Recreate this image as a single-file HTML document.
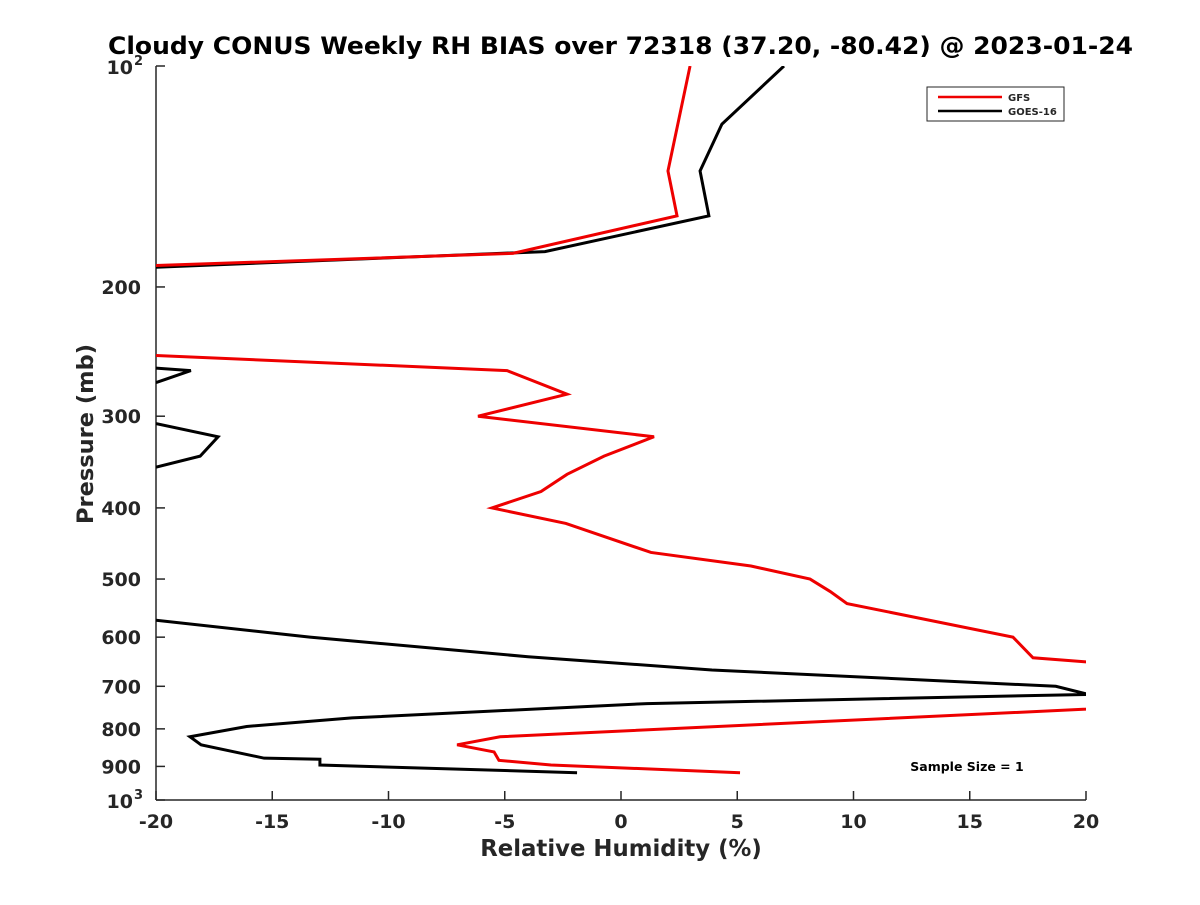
<!DOCTYPE html>
<html><head><meta charset="utf-8"><style>
body{margin:0;background:#fff}
svg text{font-family:"DejaVu Sans","Liberation Sans",sans-serif;font-weight:bold;fill:#262626}
</style></head><body>
<svg id="chart" width="1200" height="900" xmlns="http://www.w3.org/2000/svg">
<defs><clipPath id="clip"><rect x="156" y="66" width="930" height="734"/></clipPath></defs>
<rect width="1200" height="900" fill="#fff"/>
<text x="108" y="54" font-size="24" textLength="1025" lengthAdjust="spacingAndGlyphs" style="fill:#000">Cloudy CONUS Weekly RH BIAS over 72318 (37.20, -80.42) @ 2023-01-24</text>
<g id="axes"></g>
<g id="series" clip-path="url(#clip)"></g>
<g>
<rect x="927" y="87" width="137" height="34" fill="#fff" stroke="#262626" stroke-width="1"/>
<line x1="938" y1="97" x2="1002" y2="97" stroke="#e00" stroke-width="2.5"/>
<text x="1008" y="101" font-size="10">GFS</text>
<line x1="938" y1="111" x2="1002" y2="111" stroke="#000" stroke-width="2.5"/>
<text x="1008" y="115" font-size="10">GOES-16</text>
</g>
<text x="967" y="771" text-anchor="middle" font-size="12.5" style="fill:#000">Sample Size = 1</text>
<text x="621" y="856" text-anchor="middle" font-size="22.8">Relative Humidity (%)</text>
<text transform="translate(93,434) rotate(-90)" text-anchor="middle" font-size="22.5">Pressure (mb)</text>
</svg>
<script>
const xTicks=[-20,-15,-10,-5,0,5,10,15,20];
const yTicks=[200,300,400,500,600,700,800,900];
const gfsSegments=[
 [[2.97,100],[2.02,139],[2.41,160],[-4.65,180],[-20,187]],
 [[-20,248],[-4.9,260],[-2.32,280],[-6.15,300],[1.42,320],[-0.73,340],[-2.32,360],[-3.44,380],[-5.55,400],[-2.37,420],[1.29,460],[5.59,480],[8.13,500],[9.0,520],[9.72,540],[16.86,600],[17.72,640],[21,652],[26,700],[20,752],[-5.2,820],[-7.05,841],[-5.46,860],[-5.25,883],[-3.01,896],[5.12,918]]
];
const goesSegments=[
 [[7.01,100],[4.34,120],[3.4,139],[3.78,160],[-3.27,179],[-20,188]],
 [[-20,258],[-18.5,260],[-20,270]],
 [[-20,307],[-17.33,320],[-18.1,340],[-20,352]],
 [[-20,569],[-13.38,600],[-4.0,638],[3.91,665],[18.7,700],[20.1,718],[1.12,739],[-11.57,773],[-16.1,794],[-18.54,820],[-18.06,841],[-15.35,877],[-12.95,880],[-12.95,896],[-1.89,918]]
];
const NS="http://www.w3.org/2000/svg";
const X=v=>156+(v+20)/40*930;
const Y=p=>66+734*Math.log10(p/100);
const axes=document.getElementById('axes'), series=document.getElementById('series');
function mk(tag,attrs,parent){const e=document.createElementNS(NS,tag);for(const k in attrs)e.setAttribute(k,attrs[k]);parent.appendChild(e);return e;}
const yl=mk('line',{x1:156,y1:66,x2:156,y2:800,stroke:'#262626','stroke-width':1.5},axes);


const xl=mk('line',{x1:156,y1:800,x2:1086,y2:800,stroke:'#262626','stroke-width':1.5},axes);


xTicks.forEach(v=>{
 const l=mk('line',{x1:X(v),y1:800,x2:X(v),y2:791,stroke:'#262626','stroke-width':1.5},axes);
 
 
 const t=mk('text',{x:X(v),y:828,'text-anchor':'middle','font-size':19},axes);
 t.textContent=String(v);
 
 
});
[100,...yTicks,1000].forEach(p=>{
 const l=mk('line',{x1:156,y1:Y(p),x2:165,y2:Y(p),stroke:'#262626','stroke-width':1.5},axes);
 
 
});
yTicks.forEach(p=>{
 const t=mk('text',{x:141,y:Y(p)+7,'text-anchor':'end','font-size':19},axes);
 t.textContent=String(p);
 
 
});
[[100,'2'],[1000,'3']].forEach(([p,e])=>{
 const t=mk('text',{x:133,y:Y(p)+8,'text-anchor':'end','font-size':19},axes);
 t.textContent='10';
 
 
 const s=mk('text',{x:134,y:Y(p)-1,'font-size':13},axes);
 s.textContent=e;
 
 
});
function draw(segs,color,name){
 segs.forEach(seg=>{
  const pl=mk('polyline',{points:seg.map(([v,p])=>X(v)+','+Y(p)).join(' '),fill:'none',stroke:color,'stroke-width':3,'stroke-linejoin':'miter'},series);
  
  
 });
}
draw(goesSegments,'#000','goes16-line');
draw(gfsSegments,'#e00','gfs-line');
</script>
</body></html>
